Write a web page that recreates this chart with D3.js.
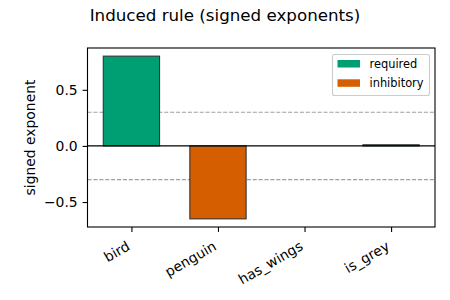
<!DOCTYPE html>
<html>
<head>
<meta charset="utf-8">
<script src="https://cdn.jsdelivr.net/npm/d3@7"></script>
<style>
  body { margin: 0; background: #fff; }
  text { font-family: "DejaVu Sans", sans-serif; }
</style>
</head>
<body>
<svg id="chart" width="450" height="300"></svg>
<script>
const features = ["bird", "penguin", "has_wings", "is_grey"]
const exponents = [0.8, -0.65, 0.0, 0.01]
const yTicks = [-0.5, 0.0, 0.5]
const thresholds = [0.3, -0.3]
const legendLabels = ["required", "inhibitory"]
const colors = {required: "#009E73", inhibitory: "#D55E00"}

const margin = {top: 48, right: 15, bottom: 73, left: 87.5}
const W = 450, H = 300
const fs = 13.9

const svg = d3.select("#chart")

const x = d3.scaleLinear()
  .domain([-0.5075, features.length - 1 + 0.5075])
  .range([margin.left, W - margin.right])
const y = d3.scaleLinear()
  .domain([-0.7225, 0.8725])
  .range([H - margin.bottom, margin.top])
const barW = 0.65

svg.append("text")
  .attr("x", 225).attr("y", 21)
  .attr("text-anchor", "middle")
  .attr("font-size", 16.7)
  .text("Induced rule (signed exponents)")

// dashed threshold lines
svg.selectAll(".thr")
  .data(thresholds).enter()
  .append("line")
  .attr("x1", margin.left).attr("x2", W - margin.right)
  .attr("y1", d => y(d)).attr("y2", d => y(d))
  .attr("stroke", "#a0a0a0").attr("stroke-width", 1.1)
  .attr("stroke-dasharray", "4.1,1.8")

// bars
svg.selectAll(".bar")
  .data(exponents).enter()
  .append("rect")
  .attr("x", (d, i) => x(i - barW / 2))
  .attr("width", (d, i) => x(i + barW / 2) - x(i - barW / 2))
  .attr("y", d => y(Math.max(d, 0)))
  .attr("height", d => Math.abs(y(d) - y(0)))
  .attr("fill", d => d >= 0 ? colors.required : colors.inhibitory)
  .attr("stroke", "#333").attr("stroke-width", 1.1)

// zero line
svg.append("line")
  .attr("x1", margin.left).attr("x2", W - margin.right)
  .attr("y1", y(0)).attr("y2", y(0))
  .attr("stroke", "#000").attr("stroke-width", 1.4)

// axes
let xAxis = d3.axisBottom(x)
  .tickValues(d3.range(features.length))
  .tickFormat(i => features[i])
  .tickSize(4.9).tickPadding(0)
let gx = svg.append("g")
  .attr("transform", `translate(0, ${H - margin.bottom})`)
  .call(xAxis)
gx.select(".domain").remove()
gx.selectAll("line").attr("stroke-width", 1.1)
gx.selectAll("text")
  .attr("font-size", fs)
  .attr("font-family", "DejaVu Sans")
  .attr("fill", "#000")
  .attr("text-anchor", "end")
  .attr("y", 0).attr("dy", 0)
  .attr("transform", "translate(-1, 22) rotate(-30)")

let yAxis = d3.axisLeft(y)
  .tickValues(yTicks)
  .tickFormat(d => d3.format(".1f")(d).replace("-", "\u2212"))
  .tickSize(4.9).tickPadding(4.9)
let gy = svg.append("g")
  .attr("transform", `translate(${margin.left}, 0)`)
  .call(yAxis)
gy.select(".domain").remove()
gy.selectAll("line").attr("stroke-width", 1.1)
gy.selectAll("text").attr("font-size", fs).attr("font-family", "DejaVu Sans").attr("fill", "#000")

// frame
svg.append("rect")
  .attr("x", margin.left).attr("y", margin.top)
  .attr("width", W - margin.right - margin.left)
  .attr("height", H - margin.bottom - margin.top)
  .attr("fill", "none").attr("stroke", "#000").attr("stroke-width", 1.1)

svg.append("text")
  .attr("transform", `translate(35, ${(margin.top + H - margin.bottom) / 2}) rotate(-90)`)
  .attr("text-anchor", "middle")
  .attr("font-size", fs)
  .text("signed exponent")

// legend
let lg = svg.append("g").attr("transform", "translate(332.5, 54.5)")
lg.append("rect")
  .attr("width", 97).attr("height", 41).attr("rx", 2)
  .attr("fill", "#fff").attr("fill-opacity", 0.8)
  .attr("stroke", "#ccc").attr("stroke-width", 1.1)
legendLabels.forEach((name, i) => {
  lg.append("rect")
    .attr("x", 5).attr("y", 5.5 + i * 19.3)
    .attr("width", 22.5).attr("height", 7.5)
    .attr("fill", colors[name])
  lg.append("text")
    .attr("x", 37).attr("y", 13.5 + i * 19.3)
    .attr("font-size", 11.4)
    .text(name)
})
</script>
</body>
</html>
